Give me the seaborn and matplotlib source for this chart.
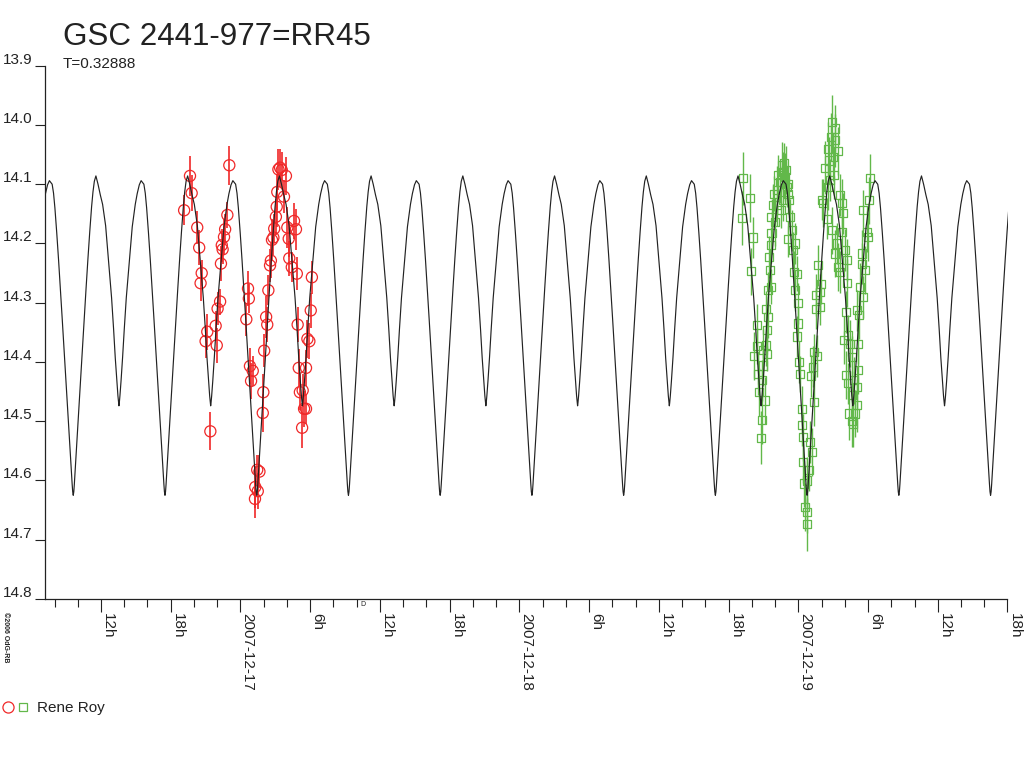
import numpy as np
import pandas as pd
import matplotlib
matplotlib.use('Agg')
import matplotlib.pyplot as plt
import matplotlib.transforms as mtransforms
import seaborn as sns
from matplotlib.ticker import MultipleLocator, FuncFormatter
from matplotlib.lines import Line2D
from matplotlib.legend_handler import HandlerTuple

TITLE = 'GSC 2441-977=RR45'
PERIOD = 0.32888
EPOCH = 17.716  # primary minimum, day of 2007-12 (UT)
OBSERVER = 'Rene Roy'

# light curve template over one period (phase -> mag)
phase_tpl = [0.000, 0.006, 0.012, 0.020, 0.040, 0.060, 0.080, 0.100, 0.120, 0.140,
             0.160, 0.180, 0.200, 0.215, 0.230, 0.247, 0.270, 0.295, 0.320, 0.353,
             0.385, 0.418, 0.440, 0.458, 0.475, 0.487, 0.494, 0.498, 0.502, 0.509,
             0.521, 0.538, 0.556, 0.578, 0.611, 0.643, 0.676, 0.697, 0.720, 0.740,
             0.770, 0.785, 0.800, 0.820, 0.840, 0.860, 0.880, 0.900, 0.920, 0.940,
             0.960, 0.980, 0.988, 0.994]
mag_tpl = [14.625, 14.619, 14.606, 14.585, 14.533, 14.482, 14.430, 14.378, 14.326, 14.275,
           14.226, 14.180, 14.138, 14.113, 14.095, 14.086, 14.100, 14.118, 14.134, 14.170,
           14.230, 14.292, 14.345, 14.393, 14.432, 14.457, 14.469, 14.474, 14.469, 14.457,
           14.432, 14.392, 14.345, 14.292, 14.232, 14.172, 14.134, 14.116, 14.101, 14.094,
           14.100, 14.115, 14.140, 14.182, 14.228, 14.277, 14.328, 14.380, 14.432, 14.484,
           14.535, 14.587, 14.606, 14.619]

# observations, night of 2007-12-16/17 (red circles)
red_day = [16.798, 16.819, 16.825, 16.845, 16.852, 16.861, 16.857, 16.892, 16.881, 16.875,
           16.915, 16.911, 16.918, 16.927, 16.930, 16.936, 16.933, 16.941, 16.945, 16.953,
           16.960, 17.027, 17.030, 17.021, 17.034, 17.044, 17.038, 17.082, 17.080, 17.060,
           17.068, 17.053, 17.062, 17.052, 17.085, 17.092, 17.096, 17.100, 17.106, 17.109,
           17.113, 17.118, 17.121, 17.127, 17.130, 17.132, 17.136, 17.142, 17.148, 17.156,
           17.163, 17.168, 17.173, 17.175, 17.184, 17.192, 17.199, 17.202, 17.205, 17.209,
           17.213, 17.223, 17.228, 17.235, 17.221, 17.235, 17.240, 17.247, 17.252, 17.256]
red_mag = [14.144, 14.086, 14.115, 14.173, 14.207, 14.250, 14.267, 14.517, 14.349, 14.365,
           14.372, 14.339, 14.310, 14.298, 14.234, 14.210, 14.203, 14.189, 14.176, 14.152,
           14.068, 14.276, 14.293, 14.328, 14.407, 14.415, 14.432, 14.451, 14.486, 14.582,
           14.585, 14.611, 14.618, 14.631, 14.381, 14.324, 14.337, 14.279, 14.237, 14.229,
           14.194, 14.190, 14.175, 14.155, 14.138, 14.113, 14.075, 14.072, 14.076, 14.121,
           14.086, 14.173, 14.192, 14.225, 14.240, 14.162, 14.176, 14.251, 14.337, 14.410,
           14.451, 14.448, 14.479, 14.479, 14.511, 14.410, 14.361, 14.365, 14.313, 14.257]
red_err = [0.025, 0.034, 0.030, 0.028, 0.030, 0.022, 0.030, 0.032, 0.030, 0.028,
           0.030, 0.025, 0.028, 0.022, 0.030, 0.025, 0.028, 0.030, 0.025, 0.022,
           0.033, 0.030, 0.025, 0.028, 0.030, 0.025, 0.030, 0.030, 0.032, 0.025,
           0.028, 0.035, 0.030, 0.032, 0.028, 0.035, 0.030, 0.025, 0.028, 0.030,
           0.035, 0.030, 0.025, 0.030, 0.035, 0.030, 0.035, 0.032, 0.030, 0.028,
           0.032, 0.035, 0.030, 0.030, 0.025, 0.030, 0.035, 0.028, 0.030, 0.032,
           0.030, 0.028, 0.030, 0.025, 0.035, 0.030, 0.032, 0.030, 0.030, 0.028]

# observations, night of 2007-12-18/19 (green squares)
green_day = [18.801, 18.827, 18.797, 18.836, 18.829, 18.851, 18.851, 18.841, 18.856, 18.860,
             18.869, 18.865, 18.874, 18.887, 18.884, 18.884, 18.892, 18.892, 18.898, 18.902,
             18.896, 18.901, 18.904, 18.904, 18.910, 18.914, 18.922, 18.928, 18.940, 18.949,
             18.937, 18.944, 18.952, 18.958, 18.964, 18.964, 18.970, 18.976, 18.964, 18.988,
             18.980, 18.985, 18.994, 18.988, 19.000, 19.000, 18.996, 19.002, 19.006, 19.012,
             19.012, 19.018, 19.016, 19.021, 19.024, 19.032, 19.030, 19.032, 19.039, 19.048,
             19.042, 19.057, 19.045, 19.052, 19.056, 19.066, 19.063, 19.078, 19.080, 19.078,
             19.063, 19.072, 19.096, 19.107, 19.116, 19.122, 19.131, 19.131, 19.143, 19.125,
             19.114, 19.107, 19.084, 19.090, 19.102, 19.120, 19.138, 19.131, 19.149, 19.156,
             19.161, 19.143, 19.149, 19.173, 19.171, 19.164, 19.179, 19.185, 19.191, 19.171,
             19.179, 19.191, 19.209, 19.203, 19.183, 19.197, 19.209, 19.215, 19.215, 19.219,
             19.211, 19.221, 19.227, 19.227, 19.233, 19.239, 19.245, 19.251, 19.231, 19.254,
             19.257, 18.933, 18.945, 18.956, 18.968, 18.923, 18.916, 18.870, 18.879, 18.872,
             18.888, 19.167, 19.157, 19.175, 19.199, 19.193, 19.128, 19.110]
green_mag = [14.090, 14.123, 14.157, 14.190, 14.247, 14.338, 14.373, 14.390, 14.420, 14.451,
             14.498, 14.528, 14.380, 14.386, 14.372, 14.310, 14.324, 14.278, 14.245, 14.273,
             14.223, 14.203, 14.182, 14.155, 14.135, 14.116, 14.110, 14.085, 14.068, 14.065,
             14.144, 14.127, 14.088, 14.104, 14.099, 14.116, 14.155, 14.178, 14.192, 14.200,
             14.211, 14.248, 14.251, 14.279, 14.301, 14.335, 14.357, 14.400, 14.420, 14.480,
             14.507, 14.527, 14.569, 14.605, 14.645, 14.653, 14.674, 14.600, 14.583, 14.552,
             14.535, 14.468, 14.424, 14.408, 14.383, 14.390, 14.310, 14.307, 14.268, 14.282,
             14.287, 14.237, 14.072, 14.040, 14.020, 13.995, 14.006, 14.026, 14.044, 14.054,
             14.093, 14.104, 14.126, 14.132, 14.158, 14.178, 14.200, 14.217, 14.118, 14.132,
             14.149, 14.240, 14.248, 14.267, 14.316, 14.363, 14.355, 14.369, 14.392, 14.422,
             14.436, 14.456, 14.473, 14.487, 14.487, 14.504, 14.442, 14.414, 14.369, 14.321,
             14.313, 14.273, 14.234, 14.217, 14.290, 14.245, 14.180, 14.189, 14.144, 14.127,
             14.089, 14.096, 14.080, 14.076, 14.127, 14.135, 14.164, 14.431, 14.465, 14.406,
             14.346, 14.211, 14.181, 14.228, 14.431, 14.499, 14.085, 14.060]
green_err = [0.045, 0.040, 0.045, 0.035, 0.040, 0.035, 0.030, 0.040, 0.035, 0.040,
             0.040, 0.045, 0.035, 0.030, 0.035, 0.030, 0.035, 0.030, 0.035, 0.030,
             0.035, 0.030, 0.035, 0.030, 0.035, 0.030, 0.040, 0.035, 0.040, 0.035,
             0.030, 0.035, 0.040, 0.035, 0.030, 0.035, 0.030, 0.035, 0.030, 0.035,
             0.030, 0.035, 0.030, 0.035, 0.035, 0.030, 0.035, 0.035, 0.030, 0.040,
             0.035, 0.040, 0.035, 0.040, 0.040, 0.035, 0.045, 0.040, 0.035, 0.040,
             0.035, 0.040, 0.035, 0.035, 0.030, 0.035, 0.035, 0.030, 0.035, 0.030,
             0.035, 0.035, 0.045, 0.045, 0.040, 0.045, 0.040, 0.045, 0.040, 0.040,
             0.035, 0.040, 0.035, 0.040, 0.035, 0.040, 0.035, 0.040, 0.035, 0.040,
             0.035, 0.040, 0.035, 0.040, 0.035, 0.040, 0.035, 0.040, 0.035, 0.040,
             0.035, 0.040, 0.045, 0.040, 0.045, 0.040, 0.035, 0.040, 0.035, 0.040,
             0.035, 0.040, 0.035, 0.040, 0.035, 0.040, 0.035, 0.040, 0.035, 0.040,
             0.040, 0.035, 0.035, 0.040, 0.035, 0.035, 0.040, 0.035, 0.040, 0.035,
             0.035, 0.035, 0.040, 0.035, 0.040, 0.045, 0.040, 0.040]

RED = '#f02828'
GREEN = '#62b84a'
INK = '#222222'

sns.set_theme(style='white')
plt.rcParams['font.family'] = ['Liberation Sans', 'DejaVu Sans']

fig = plt.figure(figsize=(10.24, 7.68), dpi=100)
W, H = 1024, 768
ax = fig.add_axes([45 / W, 1 - 599 / H, (1007.5 - 45) / W, (599 - 65.7) / H])

# model curve: the phase template repeated with the period
model_day, model_mag = [], []
for n in range(-5, 7):
    for p, m in zip(phase_tpl, mag_tpl):
        model_day.append(EPOCH + (n + p) * PERIOD)
        model_mag.append(m)
model = pd.DataFrame({'day': model_day, 'mag': model_mag})

red = pd.DataFrame({'day': red_day, 'mag': red_mag, 'err': red_err})
green = pd.DataFrame({'day': green_day, 'mag': green_mag, 'err': green_err})

# error bars
ax.errorbar(red['day'], red['mag'], yerr=red['err'], fmt='none', ecolor=RED,
            elinewidth=1.2, capsize=0, zorder=2)
ax.errorbar(green['day'], green['mag'], yerr=green['err'], fmt='none', ecolor=GREEN,
            elinewidth=1.0, capsize=0, zorder=2)

sns.scatterplot(data=red, x='day', y='mag', marker='o', s=64, facecolors='none',
                edgecolors=RED, linewidths=0.9, ax=ax, zorder=3, legend=False)
sns.scatterplot(data=green, x='day', y='mag', marker='s', s=34, facecolors='none',
                edgecolors=GREEN, linewidths=0.9, ax=ax, zorder=3, legend=False)

sns.lineplot(data=model, x='day', y='mag', sort=False, estimator=None, color=INK,
             lw=0.85, ax=ax, zorder=4)

ax.set_xlim(16.2992, 19.75)
ax.set_ylim(14.8, 13.9)
ax.set_xlabel('')
ax.set_ylabel('')

# y axis
ax.set_yticks(np.round(np.arange(13.9, 14.801, 0.1), 1))
ax.yaxis.set_major_formatter(FuncFormatter(lambda v, pos: f'{v:.1f}'))
ax.tick_params(axis='y', direction='out', length=7.2, width=0.8, color=INK,
               labelsize=11, labelcolor=INK, pad=2, left=True)
shift_up = mtransforms.ScaledTranslation(0, 5.5 / 72, fig.dpi_scale_trans)
for lab in ax.get_yticklabels():
    lab.set_transform(lab.get_transform() + shift_up)


# x axis: 6h major ticks, 2h minor ticks, date at midnight
def day_fmt(v, pos):
    h = int(round((v % 1) * 24)) % 24
    if h == 0:
        return f'2007-12-{int(round(v)):02d}'
    return f'{h}h'


ax.xaxis.set_major_locator(MultipleLocator(0.25))
ax.xaxis.set_minor_locator(MultipleLocator(1 / 12))
ax.xaxis.set_major_formatter(FuncFormatter(day_fmt))
ax.tick_params(axis='x', which='major', direction='out', length=9.4, width=0.8,
               color=INK, labelsize=11, labelcolor=INK, pad=0.5, bottom=True)
ax.tick_params(axis='x', which='minor', direction='out', length=5.8, width=0.8,
               color=INK, bottom=True)
for lab in ax.get_xticklabels():
    lab.set_rotation(270)
    lab.set_ha('left')
    lab.set_va('top')

sns.despine(ax=ax, top=True, right=True)
for side in ['left', 'bottom']:
    ax.spines[side].set_color(INK)
    ax.spines[side].set_linewidth(0.9)
ax.grid(False)

# small marker next to the 10h tick
ax.text(17.43, -0.004, 'D', transform=mtransforms.blended_transform_factory(ax.transData, ax.transAxes),
        fontsize=5, color=INK, ha='left', va='top')

# titles
fig.text(63 / W, 1 - 45 / H, TITLE, fontsize=22.6, color=INK, ha='left', va='baseline')
fig.text(63 / W, 1 - 68 / H, f'T={PERIOD}', fontsize=11, color=INK, ha='left', va='baseline')
fig.text(2 / W, 1 - 612 / H, '\u00a92006 OdG-RB', rotation=270, fontsize=5,
         fontweight='bold', color=INK, ha='left', va='top')

# legend
h_circle = Line2D([], [], ls='none', marker='o', ms=8, mfc='none', mec=RED, mew=0.9)
h_square = Line2D([], [], ls='none', marker='s', ms=5.5, mfc='none', mec=GREEN, mew=0.9)
fig.legend([(h_circle, h_square)], [OBSERVER], handler_map={tuple: HandlerTuple(ndivide=None, pad=0.1)},
           loc='center left', bbox_to_anchor=(0.0, 1 - 708 / H), bbox_transform=fig.transFigure,
           frameon=False, fontsize=11, handlelength=1.8, handletextpad=0.5, borderpad=0.1,
           borderaxespad=0.0, labelcolor=INK)

fig.savefig('out.png', dpi=100, facecolor='white')
